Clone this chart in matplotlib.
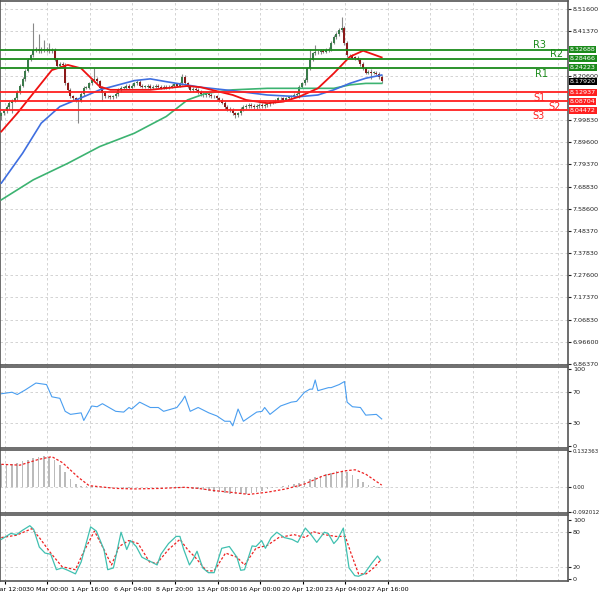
import matplotlib
matplotlib.use("Agg")
import matplotlib.pyplot as plt
import numpy as np

closes = [8.03,8.04,8.06,8.08,8.09,8.10,8.13,8.16,8.19,8.23,
          8.28,8.30,8.325,8.33,8.32,8.33,8.325,8.33,8.32,8.325,
          8.28,8.25,8.26,8.255,8.17,8.14,8.11,8.10,8.09,8.09,
          8.12,8.15,8.15,8.17,8.185,8.19,8.18,8.15,8.125,8.11,
          8.11,8.105,8.11,8.12,8.14,8.15,8.15,8.16,8.15,8.16,
          8.17,8.177,8.16,8.155,8.155,8.16,8.15,8.155,8.16,8.155,
          8.15,8.155,8.15,8.155,8.16,8.165,8.16,8.17,8.20,8.17,
          8.155,8.14,8.145,8.14,8.13,8.12,8.115,8.12,8.115,8.11,
          8.11,8.10,8.093,8.08,8.06,8.05,8.046,8.03,8.023,8.03,
          8.05,8.06,8.065,8.07,8.065,8.06,8.065,8.07,8.065,8.07,
          8.075,8.08,8.085,8.09,8.10,8.10,8.095,8.10,8.105,8.11,
          8.116,8.12,8.155,8.17,8.186,8.24,8.28,8.31,8.315,8.316,
          8.32,8.318,8.325,8.33,8.36,8.386,8.40,8.418,8.43,8.358,
          8.30,8.30,8.29,8.288,8.28,8.26,8.24,8.22,8.225,8.22,
          8.22,8.215,8.20,8.18]
first_open = 8.02
spike_highs = {12: 8.45, 14: 8.40, 16: 8.37, 18: 8.36, 35: 8.24, 68: 8.215, 116: 8.33, 118: 8.35, 128: 8.48, 139: 8.235}
spike_lows = {0: 8.00, 4: 8.03, 29: 7.985, 38: 8.09, 88: 8.01, 112: 8.10, 139: 8.19}

ma_fast_x = [0,6,19,25,30,37,41,56,70,75,87,92,100,106,112,119,125,131,136,143]
ma_fast = [7.946,8.031,8.232,8.256,8.240,8.155,8.140,8.140,8.158,8.152,8.116,8.093,8.078,8.085,8.108,8.147,8.217,8.294,8.322,8.291]
ma_blue_x = [0,8,15,22,31,37,50,56,62,75,87,100,112,119,125,131,137,143]
ma_blue = [7.706,7.845,7.985,8.062,8.108,8.140,8.183,8.191,8.178,8.152,8.136,8.116,8.108,8.116,8.140,8.170,8.194,8.209]
ma_green_x = [0,12,25,37,50,62,70,77,87,100,112,125,131,137,143]
ma_green = [7.628,7.721,7.798,7.876,7.938,8.016,8.093,8.124,8.140,8.147,8.147,8.147,8.163,8.170,8.170]

levels = [8.32688, 8.28466, 8.24223, 8.12937, 8.08704, 8.04472]
level_names = ["R3", "R2", "R1", "S1", "S2", "S3"]
current_price = 8.17920
price_ticks = [8.51600,8.41370,8.20600,7.99830,7.89600,7.79370,7.68830,7.58600,7.48370,7.37830,7.27600,7.17370,7.06830,6.96600,6.86370]

rsi_x = [0,4,6,9,13,17,19,22,24,26,30,31,34,36,38,43,46,48,49,52,56,59,61,66,68,69,71,74,78,81,84,86,87,89,91,96,98,99,101,105,109,111,114,116,117,118,119,123,124,127,129,130,132,135,137,141,143]
rsi = [68,70,67,73,82,80,64,62,45,41,43,33,52,51,55,45,44,50,48,57,50,50,45,50,59,65,45,50,43,39,32,32,26,48,32,44,45,50,41,52,57,58,70,74,74,86,72,76,76,80,84,57,51,50,40,41,35]

macd_hist = [85,84,86,90,95,100,106,112,115,112,100,80,55,30,12,6,4,3,
             2,1,1,0,0,-1,-1,0,1,1,1,0,0,0,
             -1,-2,-3,-4,-5,-7,-10,-13,-16,-19,-21,-23,-24,-25,-24,-22,-18,-13,-8,-4,
             0,4,8,12,17,23,30,36,42,48,54,58,60,55,45,32,20,10,4,-3]
macd_sig_x = [0,7,14,19,23,29,33,43,50,60,69,74,80,86,93,100,107,114,121,129,133,137,143]
macd_sig = [84,81,102,112,90,36,6,-4,-6,-4,0,-4,-12,-18,-26,-18,-6,12,42,60,64,48,8]

stk_zx = [0,25,40,55,75,85,100,115,130,145,160,175,195,210,235,250,270,280,295,315,330,340,355,370,395,410,420,440,460,470,480,495,505,515,530,545,560,580,600,620,630,640,660,670,685,695,710,725,745,765,780,800,815,830,850,860,875,885,900,915,930,940,955,975,990,998]
stk_k = [67,77,75,82,90,84,54,44,42,16,19,15,9,29,88,81,50,16,19,79,50,65,55,37,29,24,42,60,72,72,50,24,34,47,19,11,11,52,55,37,15,16,56,55,65,52,70,79,70,67,62,86,75,62,79,77,60,67,86,19,6,5,9,27,39,32]
std_zx = [0,40,80,100,130,160,195,215,245,270,290,310,335,360,390,410,440,470,490,510,540,560,590,620,640,670,700,730,770,800,820,850,880,905,920,940,960,980,998]
std_d = [70,74,85,70,44,21,16,44,81,50,24,55,65,60,29,27,50,67,50,37,14,14,44,37,24,52,57,70,75,70,80,75,72,72,44,9,9,19,32]

date_labels = ["27 Mar 12:00","30 Mar 00:00","1 Apr 16:00","6 Apr 04:00","8 Apr 20:00","13 Apr 08:00","16 Apr 00:00","20 Apr 12:00","23 Apr 04:00","27 Apr 16:00"]

FS = 4.6
W, H = 600, 597
fig = plt.figure(figsize=(6, 5.97), dpi=100)
PX = 568
def axp(top, bot):
    return fig.add_axes([0, 1 - bot / H, PX / W, (bot - top) / H])

ax = axp(1, 365)
ax_rsi = axp(367, 448)
ax_m = axp(450, 513)
ax_s = axp(515, 581)
axes = [ax, ax_rsi, ax_m, ax_s]
XMAX = PX / 2.66
vgrid = [1.3 + 16 * i for i in range(14)]
for a in axes:
    a.set_xlim(-0.5, XMAX - 0.5)
    a.yaxis.tick_right()
    a.tick_params(axis='y', labelsize=FS, length=2, pad=1.5, colors='#222222')
    a.tick_params(axis='x', length=2)
    for v in vgrid:
        a.axvline(v, color='#cccccc', ls=(0, (3, 3)), lw=0.6, zorder=0)
    for s in a.spines.values():
        s.set_color('#555555'); s.set_linewidth(1.2)
    a.set_xticks([])

ax.set_ylim(6.8637 - 0.0045, 8.516 + 0.0375)
ax.set_yticks(price_ticks)
ax.set_yticklabels([f"{p:.5f}" for p in price_ticks])
for p in price_ticks:
    ax.axhline(p, color='#cccccc', ls=(0, (3, 3)), lw=0.6, zorder=0)
opens = [first_open] + closes[:-1]
for i, (o, c) in enumerate(zip(opens, closes)):
    hi = spike_highs.get(i, max(o, c) + 0.008)
    lo = spike_lows.get(i, min(o, c) - 0.008)
    ax.vlines(i, lo, hi, color='#888888', lw=0.8, zorder=2)
    col = '#3a7a4a' if c >= o else '#8b1a1a'
    ax.bar(i, max(abs(c - o), 0.003), bottom=min(o, c), width=0.75, color=col, zorder=3)
ax.plot(ma_green_x, ma_green, color='#3cb371', lw=1.2, zorder=4)
ax.plot(ma_blue_x, ma_blue, color='#3f6fe0', lw=1.2, zorder=4)
ax.plot(ma_fast_x, ma_fast, color='#ee1111', lw=1.3, zorder=4)
name_pos = [538, 555, 540, 538, 553, 537]
name_off = [0.02, 0.02, -0.03, -0.028, -0.028, -0.028]
for lv, nm, px, off in zip(levels, level_names, name_pos, name_off):
    col = '#1a8a1a' if nm.startswith('R') else '#ff2020'
    ax.axhline(lv, color=col, lw=1.3, zorder=5)
    ax.text(px / 2.66, lv + off, nm, color=col, fontsize=7, ha='center', va='center', zorder=6)
    ax.text(1.003, lv, f"{lv:.5f}", transform=ax.get_yaxis_transform(), fontsize=FS, color='white',
            va='center', ha='left', bbox=dict(boxstyle='square,pad=0.15', fc=col, ec='none'), clip_on=False, zorder=7)
ax.text(1.003, current_price, f"{current_price:.5f}", transform=ax.get_yaxis_transform(), fontsize=FS,
        color='white', va='center', ha='left', bbox=dict(boxstyle='square,pad=0.15', fc='black', ec='none'),
        clip_on=False, zorder=8)

ax_rsi.set_ylim(-3, 103)
ax_rsi.set_yticks([0, 30, 70, 100])
for v in [30, 70]:
    ax_rsi.axhline(v, color='#cccccc', ls=(0, (3, 3)), lw=0.6, zorder=0)
ax_rsi.plot(rsi_x, rsi, color='#4a9ef0', lw=0.8)

ax_m.set_ylim(-92.012 - 2, 132.363 + 4)
ax_m.set_yticks([132.363, 0, -92.012])
ax_m.set_yticklabels(["0.132363", "0.00", "-0.092012"])
ax_m.tick_params(axis='y', labelsize=4.0, pad=1)
ax_m.axhline(0, color='#cccccc', ls=(0, (3, 3)), lw=0.6, zorder=0)
ax_m.bar(np.arange(len(macd_hist)) * 2, macd_hist, width=0.6, color='#bbbbbb', zorder=2)
ax_m.plot(macd_sig_x, macd_sig, color='#ee2222', lw=0.9, ls=(0, (2, 1.5)), zorder=3)

ax_s.set_ylim(-3, 108)
ax_s.set_yticks([0, 20, 80, 100])
for v in [20, 80]:
    ax_s.axhline(v, color='#cccccc', ls=(0, (3, 3)), lw=0.6, zorder=0)
ax_s.plot(np.array(stk_zx) / 7.0, stk_k, color='#40c0b0', lw=0.9, zorder=3)
ax_s.plot(np.array(std_zx) / 7.0, std_d, color='#ee2222', lw=0.9, ls=(0, (2, 1.5)), zorder=2)
ax_s.set_xticks(vgrid[:len(date_labels)])
ax_s.set_xticklabels(date_labels, fontsize=FS)
ax_s.tick_params(axis='x', pad=2)

fig.savefig("out.png", dpi=100)
